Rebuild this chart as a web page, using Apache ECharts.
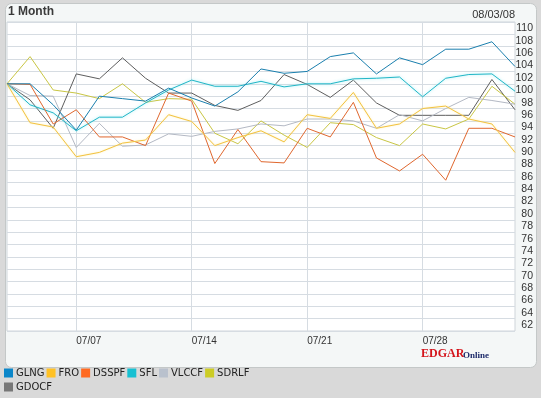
<!DOCTYPE html>
<html>
<head>
<meta charset="utf-8">
<script src="https://cdn.jsdelivr.net/npm/echarts@6/dist/echarts.min.js"></script>
<style>
  html, body { margin: 0; padding: 0; background: #d9d9d9; }
  #chart { width: 541px; height: 398px; }
</style>
</head>
<body>
<div id="chart"></div>
<script>
// trading days shown on the x axis
const days = ["07/01", "07/02", "07/03", "07/07", "07/08", "07/09", "07/10", "07/11",
  "07/14", "07/15", "07/16", "07/17", "07/18", "07/21", "07/22", "07/23", "07/24", "07/25",
  "07/28", "07/29", "07/30", "07/31", "08/01"];
const tickDays = ["07/07", "07/14", "07/21", "07/28"];

// relative performance, start = 100
const glng = [100, 100, 96.6, 92.5, 98.0, 97.6, 97.2, 99.3, 97.7, 96.4, 98.7, 102.4, 101.7, 102.0, 104.4, 105.0, 101.6, 104.2, 103.1, 105.6, 105.6, 106.8, 102.8];
const fro = [100, 93.7, 93.0, 88.2, 88.9, 90.4, 90.9, 95.0, 93.9, 90.0, 91.3, 92.4, 90.6, 95.0, 94.4, 98.6, 92.8, 93.5, 96.0, 96.4, 94.3, 93.5, 88.9];
const dsspf = [100, 99.9, 93.5, 95.8, 91.4, 91.4, 90.0, 98.5, 97.2, 87.1, 92.6, 87.4, 87.2, 92.8, 91.4, 97.0, 88.0, 85.9, 88.6, 84.4, 92.8, 92.8, 91.4];
const sfl = [100, 96.6, 95.3, 92.4, 94.6, 94.6, 96.9, 99.0, 100.6, 99.6, 99.6, 100.4, 99.5, 100.0, 100.0, 100.8, 100.9, 101.1, 97.9, 100.9, 101.5, 101.6, 98.8];
const vlccf = [100, 98.1, 98.0, 89.7, 93.6, 89.9, 90.1, 91.9, 91.5, 92.3, 92.7, 93.5, 93.2, 94.3, 94.3, 94.0, 92.8, 95.0, 94.0, 96.0, 97.8, 97.3, 96.7];
const sdrlf = [100, 104.4, 99.0, 98.5, 97.6, 100.0, 97.0, 97.6, 97.5, 92.0, 90.3, 94.0, 91.7, 89.7, 93.7, 93.4, 91.3, 90.0, 93.5, 92.7, 94.3, 99.6, 96.7];
const gdocf = [100, 97.4, 92.8, 101.6, 100.8, 104.2, 100.9, 98.5, 98.5, 96.5, 95.7, 97.3, 101.5, 99.9, 97.8, 100.6, 96.9, 94.9, 94.9, 94.9, 94.9, 100.7, 95.8];

const names = ["GLNG", "FRO", "DSSPF", "SFL", "VLCCF", "SDRLF", "GDOCF"];
const legendColors = ["#0b86c9", "#ffc125", "#ff6a21", "#17c0d2", "#b9c1cd", "#cccc26", "#777777"];
const lineColors = ["#1a7fae", "#f2c241", "#e0672e", "#22b6c6", "#b4b9c4", "#c9c644", "#5e5e5e"];
const values = [glng, fro, dsspf, sfl, vlccf, sdrlf, gdocf];

const chart = echarts.init(document.getElementById("chart"));
const font = "DejaVu Sans";
const numFont = "Liberation Sans";

const series = names.map((name, i) => ({
  name,
  type: "line",
  data: values[i],
  symbol: "none",
  itemStyle: { color: legendColors[i] },
  lineStyle: Object.assign(
    { color: lineColors[i], width: 1 },
    name === "SFL" ? { shadowColor: "rgba(140,235,245,0.9)", shadowBlur: 3 } : {},
    name === "FRO" ? { shadowColor: "rgba(255,235,150,0.8)", shadowBlur: 2 } : {}
  ),
  z: 10 - i,
}));

const isTick = (i, v) => tickDays.includes(v);

chart.setOption({
  animation: false,
  backgroundColor: "#d9d9d9",
  graphic: [
    {
      type: "rect", z: -10, silent: true,
      shape: { x: 5.5, y: 3.5, width: 531, height: 364, r: 6 },
      style: { fill: "#f4f7f7", stroke: "#c4c8c8", lineWidth: 1 },
    },
    {
      type: "text", left: 8, top: 6,
      style: { text: "1 Month", font: "bold 12px 'Liberation Sans'", fill: "#3a3a3a" },
    },
    {
      type: "text", right: 26, top: 9,
      style: { text: "08/03/08", font: "11px 'Liberation Sans'", fill: "#333" },
    },
    {
      type: "text", x: 421, y: 360,
      style: { text: "EDGAR", font: "bold 12px 'Liberation Serif'", fill: "#d4141b", verticalAlign: "bottom" },
    },
    {
      type: "text", x: 463, y: 360,
      style: { text: "Online", font: "bold 9px 'Liberation Serif'", fill: "#1d2b6b", verticalAlign: "bottom" },
    },
  ],
  legend: [
    {
      data: names.slice(0, 6), left: 4, top: 368, itemWidth: 9, itemHeight: 9, itemGap: 2,
      icon: "rect", padding: 0, selectedMode: false,
      textStyle: { fontFamily: font, fontSize: 10, color: "#222", padding: [0, 0, 0, -2] },
    },
    {
      data: names.slice(6), left: 4, top: 382, itemWidth: 9, itemHeight: 9,
      icon: "rect", padding: 0, selectedMode: false,
      textStyle: { fontFamily: font, fontSize: 10, color: "#222", padding: [0, 0, 0, -2] },
    },
  ],
  grid: {
    left: 7, right: 26, top: 22, bottom: 67,
    show: true, backgroundColor: "#ffffff", borderColor: "#cfd5da", borderWidth: 1,
  },
  xAxis: {
    type: "category",
    data: days,
    boundaryGap: false,
    axisLine: { show: false },
    axisTick: { show: false },
    axisLabel: {
      interval: isTick, align: "left", margin: 5,
      fontFamily: numFont, fontSize: 10, color: "#333",
    },
    splitLine: { show: true, interval: isTick, lineStyle: { color: "#d6dce2", width: 1 } },
  },
  yAxis: {
    type: "value",
    position: "right",
    min: 60, max: 110, interval: 2,
    axisLine: { show: false },
    axisTick: { show: false },
    axisLabel: {
      showMinLabel: false, align: "right", verticalAlign: "top", margin: 18,
      padding: [1, 0, 0, 0], fontFamily: numFont, fontSize: 10.5, color: "#333",
    },
    splitLine: { lineStyle: { color: "#d6dce2", width: 1 } },
  },
  series,
});
</script>
</body>
</html>
